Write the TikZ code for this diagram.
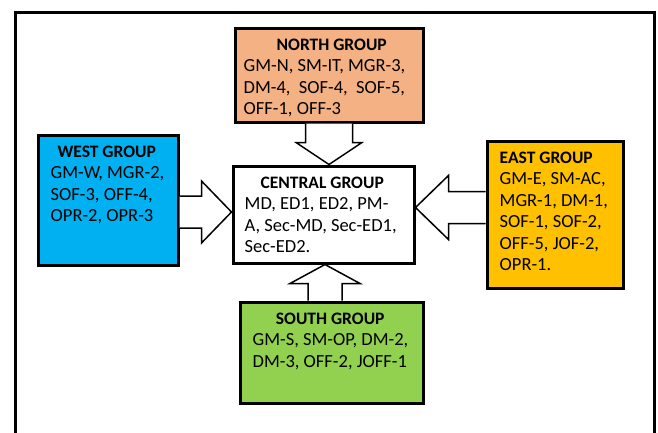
\documentclass[tikz,border=0pt]{standalone}
\usepackage{fontspec}
\setmainfont{Carlito}
\usetikzlibrary{calc}

\definecolor{northfill}{HTML}{F4B183}
\definecolor{westfill}{HTML}{00B0F0}
\definecolor{eastfill}{HTML}{FFC000}
\definecolor{southfill}{HTML}{92D050}

\tikzset{
  grpbox/.style={draw=black, line width=3pt, rectangle, inner sep=0pt},
  grptext/.style={inner sep=0pt, align=left, font=\fontsize{18.5}{21.5}\selectfont},
  grparr/.style={draw=black, line width=1.5pt, fill=white, line join=miter}
}
% title centred over a given width
\newcommand\grptitle[2]{\makebox[#1]{\fontsize{17.5}{21.5}\selectfont\bfseries #2}}

% block arrow: tail, tip, half shaft, half head, head length
\newcommand\grparrow[5]{%
  \coordinate (hb) at ($(#2)!#5!(#1)$);
  \filldraw[grparr] ($(#1)!#3!90:(#2)$) -- ($(hb)!#3!90:(#2)$)
    -- ($(hb)!#4!90:(#2)$) -- (#2) -- ($(hb)!#4!-90:(#2)$)
    -- ($(hb)!#3!-90:(#2)$) -- ($(#1)!#3!-90:(#2)$);
}

\begin{document}
\begin{tikzpicture}[x=1pt,y=-1pt]
  \useasboundingbox (0,0) rectangle (658,432);
  % outer frame, open at the bottom
  \draw[line width=3pt] (15,440) -- (15,12) -- (654,12) -- (654,440);

  % the five groups
  \node[grpbox, fill=northfill, minimum width=188pt, minimum height=94pt]  (north)   at (329,75)      {};
  \node[grpbox, fill=westfill,  minimum width=140pt, minimum height=130pt] (west)    at (108,200)     {};
  \node[grpbox, fill=white,     minimum width=181pt, minimum height=97pt]  (central) at (323.5,214.5) {};
  \node[grpbox, fill=eastfill,  minimum width=136pt, minimum height=147pt] (east)    at (555,214.5)   {};
  \node[grpbox, fill=southfill, minimum width=183pt, minimum height=101pt] (south)   at (331.5,352.5) {};

  \node[grptext, anchor=north west] (northtxt) at ($(north.north west)+(10,12)$)
    {\grptitle{176pt}{NORTH GROUP}\\GM-N, SM-IT, MGR-3,\\DM-4,\ \ SOF-4,\ \ SOF-5,\\OFF-1, OFF-3};
  \node[grptext, anchor=north west] (westtxt) at ($(west.north west)+(14,12)$)
    {\grptitle{112pt}{WEST GROUP}\\GM-W, MGR-2,\\SOF-3, OFF-4,\\OPR-2, OPR-3};
  \node[grptext, anchor=north west] (centraltxt) at ($(central.north west)+(13,12)$)
    {\grptitle{155pt}{CENTRAL GROUP}\\MD, ED1, ED2, PM-\\A, Sec-MD, Sec-ED1,\\Sec-ED2.};
  \node[grptext, anchor=north west] (easttxt) at ($(east.north west)+(14,12)$)
    {{\fontsize{17.5}{21.5}\selectfont\bfseries EAST GROUP}\\GM-E, SM-AC,\\MGR-1, DM-1,\\SOF-1, SOF-2,\\OFF-5, JOF-2,\\OPR-1.};
  \node[grptext, anchor=north west] (southtxt) at ($(south.north west)+(14,12)$)
    {\grptitle{155pt}{SOUTH GROUP}\\GM-S, SM-OP, DM-2,\\DM-3, OFF-2, JOFF-1};

  % arrows into the central group
  \coordinate (ntip) at (north.south |- central.north);
  \grparrow{north.south}{ntip}{23.5pt}{33pt}{22pt}
  \coordinate (wtip) at ($(central.west)+(0,-2.5)$);
  \coordinate (wtail) at (west.east |- wtip);
  \grparrow{wtail}{wtip}{16pt}{31pt}{30pt}
  \coordinate (etip) at ($(central.east)+(0,-7)$);
  \coordinate (etail) at (east.west |- etip);
  \grparrow{etail}{etip}{16pt}{32pt}{33pt}
  \coordinate (stip) at ($(central.south)+(1.5,0)$);
  \coordinate (stail) at (stip |- south.north);
  \grparrow{stail}{stip}{17pt}{35pt}{19pt}
\end{tikzpicture}
\end{document}
